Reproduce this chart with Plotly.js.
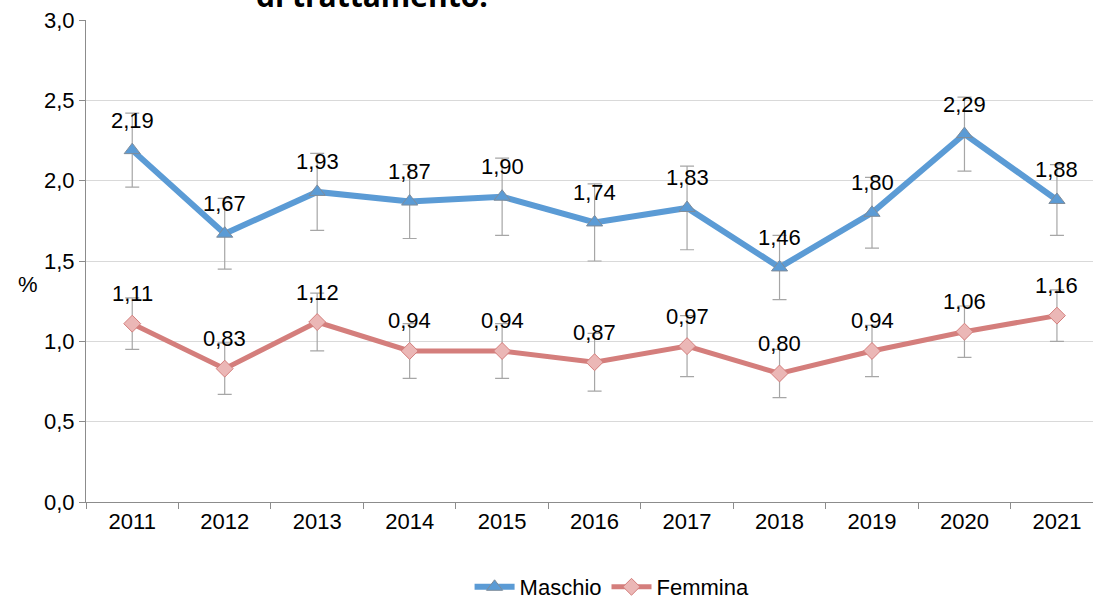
<!DOCTYPE html>
<html><head><meta charset="utf-8">
<script src="https://cdn.plot.ly/plotly-3.0.1.min.js"></script>
<style>html,body{margin:0;padding:0;background:#fff}#chart{width:1093px;height:608px}</style>
</head><body><div id="chart"></div>
<script>
const years = ['2011','2012','2013','2014','2015','2016','2017','2018','2019','2020','2021'];
const maschio = [2.19,1.67,1.93,1.87,1.90,1.74,1.83,1.46,1.80,2.29,1.88];
const maschioErr = [0.23,0.22,0.24,0.23,0.24,0.24,0.26,0.20,0.22,0.23,0.22];
const femmina = [1.11,0.83,1.12,0.94,0.94,0.87,0.97,0.80,0.94,1.06,1.16];
const femminaErr = [0.16,0.16,0.18,0.17,0.17,0.18,0.19,0.15,0.16,0.16,0.16];
const yTicks = [0,0.5,1,1.5,2,2.5,3];

const fmt = v => v.toFixed(2).replace('.', ',');
const font = 'Liberation Sans, Arial, sans-serif';

const traces = [
  {x: years, y: maschio, name: 'Maschio', type: 'scatter', mode: 'lines+markers',
   line: {color: '#5B9BD5', width: 6},
   marker: {symbol: 'triangle-up', size: 14, color: '#5B9BD5', line: {color: '#7F8C9A', width: 1}},
   error_y: {type: 'data', array: maschioErr, visible: true, color: '#A6A6A6', thickness: 1.2, width: 7}},
  {x: years, y: femmina, name: 'Femmina', type: 'scatter', mode: 'lines+markers',
   line: {color: '#D47E7C', width: 5},
   marker: {symbol: 'diamond', size: 13, color: '#EBB7B6', line: {color: '#D47E7C', width: 1}},
   error_y: {type: 'data', array: femminaErr, visible: true, color: '#A6A6A6', thickness: 1.2, width: 7}}
];

const annotations = [];
years.forEach((yr, i) => {
  annotations.push({x: i, y: maschio[i], xref: 'x', yref: 'y', text: fmt(maschio[i]), showarrow: false,
    yshift: 30, font: {family: font, size: 22, color: '#000'}});
  annotations.push({x: i, y: femmina[i], xref: 'x', yref: 'y', text: fmt(femmina[i]), showarrow: false,
    yshift: 30, font: {family: font, size: 22, color: '#000'}});
});
annotations.push({xref: 'paper', yref: 'paper', x: -0.07, y: 0.452, text: '%', showarrow: false,
  font: {family: font, size: 22, color: '#000'}});
annotations.push({xref: 'paper', yref: 'paper', x: 0.167, y: 1, xanchor: 'left', yanchor: 'bottom', yshift: 2,
  text: '<b>di trattamento.</b>', showarrow: false,
  font: {family: 'Open Sans, Liberation Sans, sans-serif', size: 30, color: '#000'}});

const layout = {
  width: 1093, height: 608,
  margin: {l: 86, r: 0, t: 20, b: 106},
  paper_bgcolor: '#fff', plot_bgcolor: '#fff',
  separators: ',.',
  showlegend: true,
  legend: {orientation: 'h', x: 0.56, xanchor: 'center', xref: 'container', y: 0.0, yanchor: 'bottom', yref: 'container',
    font: {family: font, size: 22, color: '#000'}, itemwidth: 40, tracegroupgap: 0},
  xaxis: {type: 'category', range: [-0.5, 10.39], showgrid: false, showline: true, linecolor: '#8C8C8C', linewidth: 1,
    ticks: 'outside', tickson: 'boundaries', ticklen: 6, tickcolor: '#8C8C8C',
    tickfont: {family: font, size: 22, color: '#000'}, zeroline: false},
  yaxis: {range: [0, 3], tickvals: yTicks, tickformat: '.1f', showgrid: true, gridcolor: '#D9D9D9', gridwidth: 1,
    showline: true, linecolor: '#8C8C8C', linewidth: 1, ticks: 'outside', ticklen: 6, tickcolor: '#8C8C8C',
    tickfont: {family: font, size: 22, color: '#000'}, zeroline: false},
  annotations: annotations
};

Plotly.newPlot('chart', traces, layout, {displayModeBar: false, staticPlot: true});
</script></body></html>
